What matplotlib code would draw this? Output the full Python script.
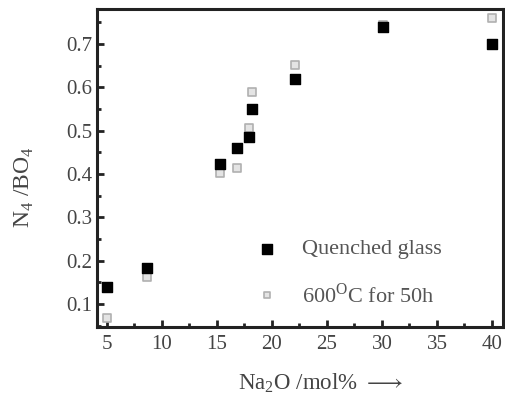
import numpy as np
import matplotlib.pyplot as plt

# Na2O content (mol%)
na2o = [5.0, 8.6, 15.3, 16.8, 17.9, 18.2, 22.1, 30.1, 40.0]
# N4/BO4 for the two series
quenched = [0.139, 0.183, 0.423, 0.460, 0.486, 0.550, 0.620, 0.740, 0.700]
annealed = [0.068, 0.162, 0.402, 0.414, 0.506, 0.590, 0.652, 0.745, 0.760]

plt.rcParams['font.family'] = ['Liberation Serif', 'DejaVu Serif']
plt.rcParams['mathtext.fontset'] = 'custom'
plt.rcParams['mathtext.rm'] = 'Liberation Serif'

fig = plt.figure(figsize=(5.06, 4.07), dpi=100)
ax = fig.add_axes([97/506, 1 - 327/407, (503-97)/506, (327-9)/407])

ax.scatter(na2o, annealed, marker='s', s=26, facecolor='#e4e4e4',
           edgecolor='#b0b0b0', linewidth=1.2, zorder=2)
ax.scatter(na2o, quenched, marker='s', s=60, color='black', zorder=3)

ax.set_xlim(4.1, 41)
ax.set_ylim(0.047, 0.781)
ax.set_xticks([5, 10, 15, 20, 25, 30, 35, 40])
ax.set_yticks([0.1, 0.2, 0.3, 0.4, 0.5, 0.6, 0.7])
ax.set_xticks(np.arange(7.5, 40, 5), minor=True)
ax.set_yticks(np.arange(0.05, 0.78, 0.1), minor=True)
ax.tick_params(which='both', direction='in', width=2, colors='#222222',
               labelsize=15, labelcolor='#444444')
ax.tick_params(which='major', length=5)
ax.tick_params(which='minor', length=3)
ax.tick_params(axis='x', pad=6)
for s in ax.spines.values():
    s.set_linewidth(2.2)
    s.set_color('#222222')

# legend drawn by hand, in axes coordinates
ax.scatter([0.419], [0.245], transform=ax.transAxes, marker='s', s=55, color='black')
ax.scatter([0.419], [0.1], transform=ax.transAxes, marker='s', s=22, facecolor='#e4e4e4',
           edgecolor='#b0b0b0', linewidth=1.2)
ax.text(0.505, 0.245, 'Quenched glass', transform=ax.transAxes, va='center',
        fontsize=16, color='#555555')
ax.text(0.505, 0.1, r'600$^{\mathrm{O}}$C for 50h', transform=ax.transAxes,
        va='center', fontsize=16, color='#555555')

ax.set_xlabel(r'Na$_2$O /mol% $\longrightarrow$', fontsize=16.5, color='#444444')
ax.xaxis.set_label_coords(0.552, -0.14)
ax.set_ylabel(r'N$_4$ /BO$_4$', fontsize=17, color='#444444')
ax.yaxis.set_label_coords(-0.15, 0.44)

fig.savefig('out.png', dpi=100)
